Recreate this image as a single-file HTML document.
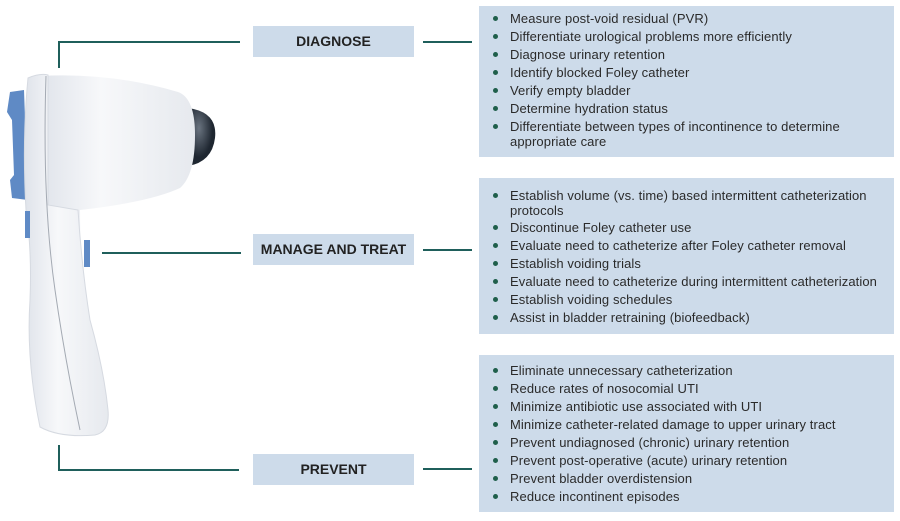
<!DOCTYPE html>
<html><head><style>
body{margin:0;width:900px;height:521px;background:#fff;position:relative;overflow:hidden;font-family:"Liberation Sans",sans-serif;}
.panel{position:absolute;left:479px;width:415px;background:#cddbea;}
.lbl{position:absolute;left:253px;width:161px;height:31px;background:#cddbea;color:#222;font-weight:bold;font-size:14px;line-height:31px;text-align:center;}
.ln{position:absolute;background:#1f5f5b;}
.t{position:absolute;left:510px;font-size:13px;letter-spacing:0.1px;color:#2a2a2a;white-space:nowrap;line-height:15px;}
.b{position:absolute;left:493px;width:5px;height:5px;border-radius:50%;background:#1f5f4b;}
</style></head><body>
<div class="panel" style="top:6px;height:151px"></div>
<div class="panel" style="top:178px;height:156px"></div>
<div class="panel" style="top:355px;height:157px"></div>
<div class="lbl" style="top:26px">DIAGNOSE</div>
<div class="lbl" style="top:234px">MANAGE AND TREAT</div>
<div class="lbl" style="top:454px">PREVENT</div>
<div class="ln" style="left:58px;top:41px;width:182px;height:2px"></div>
<div class="ln" style="left:58px;top:41px;width:2px;height:27px"></div>
<div class="ln" style="left:423px;top:41px;width:49px;height:2px"></div>
<div class="ln" style="left:102px;top:252px;width:139px;height:2px"></div>
<div class="ln" style="left:423px;top:249px;width:49px;height:2px"></div>
<div class="ln" style="left:58px;top:445px;width:2px;height:26px"></div>
<div class="ln" style="left:58px;top:469px;width:181px;height:2px"></div>
<div class="ln" style="left:423px;top:468px;width:49px;height:2px"></div>
<svg style="position:absolute;left:0;top:0" width="240" height="450">
<defs><linearGradient id="g" x1="0" x2="1"><stop offset="0" stop-color="#dfe3ea"/><stop offset="0.4" stop-color="#f7f8fa"/><stop offset="1" stop-color="#e6e9ee"/></linearGradient>
<radialGradient id="s" cx="0.4" cy="0.35"><stop offset="0" stop-color="#6a7480"/><stop offset="1" stop-color="#1e2630"/></radialGradient></defs>
<path d="M10 92 L24 90 L28 200 L12 198 L10 180 L14 175 L12 120 L7 112 Z" fill="#5f8ac5"/>
<path d="M188 108 Q218 112 215 138 Q212 162 188 166 Z" fill="url(#s)"/>
<path d="M40 76 Q110 72 178 92 Q195 98 195 135 Q195 175 180 188 Q150 202 80 210 L82 420 Q30 250 40 76 Z" fill="url(#g)"/>
<path d="M28 78 Q40 73 48 75 L48 205 L78 210 Q82 270 90 320 Q104 370 108 410 Q110 432 95 435 Q60 438 40 427 Q26 360 30 300 Q32 250 26 210 Q22 140 28 78 Z" fill="url(#g)" stroke="#d6dae1" stroke-width="1"/>
<path d="M46 76 Q42 200 55 290 Q65 360 80 430" fill="none" stroke="#a4aab3" stroke-width="1"/>
<rect x="25" y="211" width="5" height="27" fill="#5f8ac5"/>
<rect x="84" y="240" width="6" height="27" fill="#5f8ac5"/>
</svg>
<div class="b" style="top:16px"></div><div class="t" style="top:11px">Measure post-void residual (PVR)</div>
<div class="b" style="top:34px"></div><div class="t" style="top:29px">Differentiate urological problems more efficiently</div>
<div class="b" style="top:52px"></div><div class="t" style="top:47px">Diagnose urinary retention</div>
<div class="b" style="top:70px"></div><div class="t" style="top:65px">Identify blocked Foley catheter</div>
<div class="b" style="top:88px"></div><div class="t" style="top:83px">Verify empty bladder</div>
<div class="b" style="top:106px"></div><div class="t" style="top:101px">Determine hydration status</div>
<div class="b" style="top:124px"></div><div class="t" style="top:119px">Differentiate between types of incontinence to determine<br>appropriate care</div>
<div class="b" style="top:193px"></div><div class="t" style="top:188px">Establish volume (vs. time) based intermittent catheterization<br>protocols</div>
<div class="b" style="top:225px"></div><div class="t" style="top:220px">Discontinue Foley catheter use</div>
<div class="b" style="top:243px"></div><div class="t" style="top:238px">Evaluate need to catheterize after Foley catheter removal</div>
<div class="b" style="top:261px"></div><div class="t" style="top:256px">Establish voiding trials</div>
<div class="b" style="top:279px"></div><div class="t" style="top:274px">Evaluate need to catheterize during intermittent catheterization</div>
<div class="b" style="top:297px"></div><div class="t" style="top:292px">Establish voiding schedules</div>
<div class="b" style="top:315px"></div><div class="t" style="top:310px">Assist in bladder retraining (biofeedback)</div>
<div class="b" style="top:368px"></div><div class="t" style="top:363px">Eliminate unnecessary catheterization</div>
<div class="b" style="top:386px"></div><div class="t" style="top:381px">Reduce rates of nosocomial UTI</div>
<div class="b" style="top:404px"></div><div class="t" style="top:399px">Minimize antibiotic use associated with UTI</div>
<div class="b" style="top:422px"></div><div class="t" style="top:417px">Minimize catheter-related damage to upper urinary tract</div>
<div class="b" style="top:440px"></div><div class="t" style="top:435px">Prevent undiagnosed (chronic) urinary retention</div>
<div class="b" style="top:458px"></div><div class="t" style="top:453px">Prevent post-operative (acute) urinary retention</div>
<div class="b" style="top:476px"></div><div class="t" style="top:471px">Prevent bladder overdistension</div>
<div class="b" style="top:494px"></div><div class="t" style="top:489px">Reduce incontinent episodes</div>
</body></html>
